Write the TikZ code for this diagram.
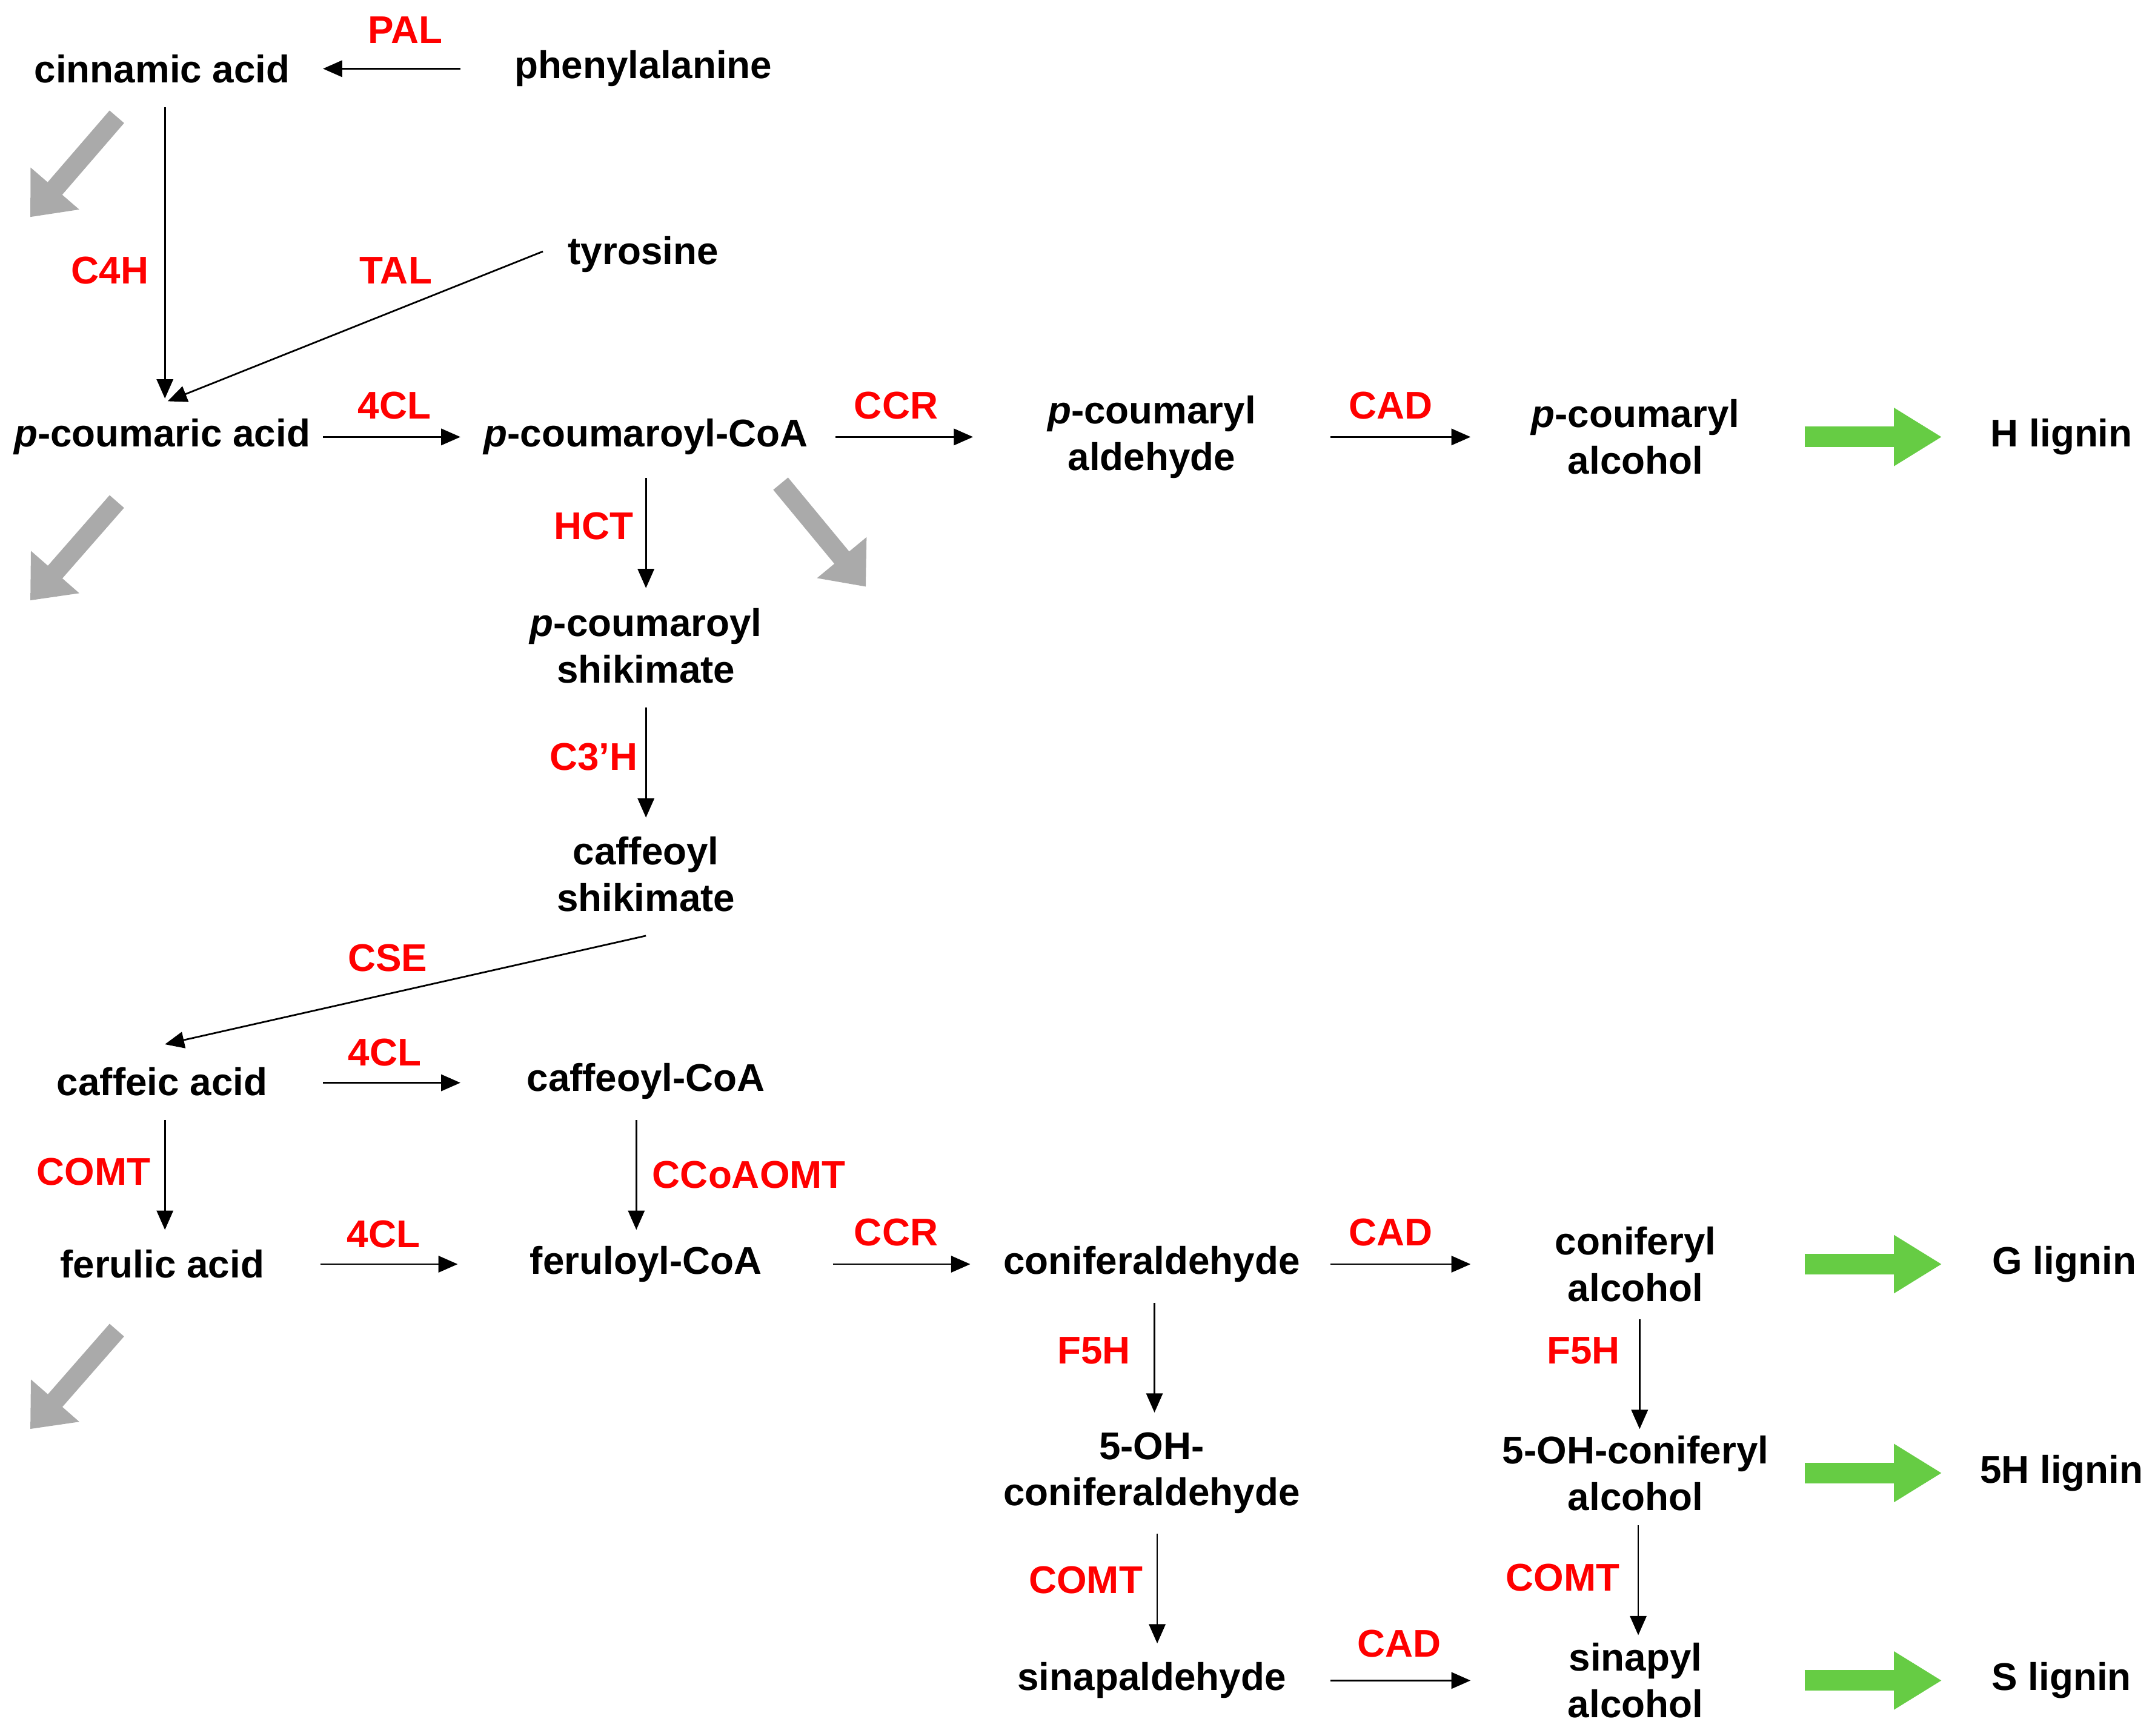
\documentclass[tikz,border=0pt]{standalone}
\usepackage{fontspec}
\setmainfont{Liberation Sans}
\usetikzlibrary{arrows.meta,calc}
\begin{document}
\begin{tikzpicture}[x=0.02cm,y=-0.02cm,
  t/.style={font=\fontsize{16}{19.3}\selectfont\bfseries,align=center,inner sep=0pt},
  e/.style={t,text=red},
  arr/.style={-{Triangle[length=0.28cm,width=0.24cm]},line width=0.7pt},
  gray/.style={-{Triangle[length=0.55cm,width=0.9cm]},line width=0.28cm,draw={rgb,255:red,170;green,170;blue,170}},
  green/.style={-{Triangle[length=0.7cm,width=0.8cm]},line width=0.3cm,draw={rgb,255:red,102;green,204;blue,68}}]
\useasboundingbox (0,0) rectangle (1568,1263);
% nodes
\node[t] (cin) at (118,50) {cinnamic acid};
\node[t] (phe) at (468,50) {phenylalanine};
\node[t] (tyr) at (468,185) {tyrosine};
\node[t] (pca) at (118,318) {\textit{p}-coumaric acid};
\node[t] (pcc) at (470,318) {\textit{p}-coumaroyl-CoA};
\node[t] (pcald) at (838,318) {\textit{p}-coumaryl\\aldehyde};
\node[t] (pcalc) at (1190,318) {\textit{p}-coumaryl\\alcohol};
\node[t] (hl) at (1500,318) {H lignin};
\node[t] (pcs) at (470,470) {\textit{p}-coumaroyl\\shikimate};
\node[t] (cfs) at (470,636) {caffeoyl\\shikimate};
\node[t] (cfa) at (118,787) {caffeic acid};
\node[t] (cfc) at (470,787) {caffeoyl-CoA};
\node[t] (fea) at (118,920) {ferulic acid};
\node[t] (fec) at (470,920) {feruloyl-CoA};
\node[t] (cald) at (838,920) {coniferaldehyde};
\node[t] (calc) at (1190,920) {coniferyl\\alcohol};
\node[t] (gl) at (1502,920) {G lignin};
\node[t] (ohald) at (838,1072) {5-OH-\\coniferaldehyde};
\node[t] (ohalc) at (1190,1072) {5-OH-coniferyl\\alcohol};
\node[t] (fhl) at (1500,1072) {5H lignin};
\node[t] (sald) at (838,1223) {sinapaldehyde};
\node[t] (salc) at (1190,1223) {sinapyl\\alcohol};
\node[t] (sl) at (1500,1223) {S lignin};
% enzymes
\node[e] (e1) at (295,22) {PAL};
\node[e] (e2) at (80,197) {C4H};
\node[e] (e3) at (288,197) {TAL};
\node[e] (e4) at (287,295) {4CL};
\node[e] (e5) at (652,295) {CCR};
\node[e] (e6) at (1012,295) {CAD};
\node[e] (e7) at (432,383) {HCT};
\node[e] (e8) at (432,551) {C3’H};
\node[e] (e9) at (282,697) {CSE};
\node[e] (e10) at (280,766) {4CL};
\node[e] (e11) at (68,853) {COMT};
\node[e] (e12) at (545,855) {CCoAOMT};
\node[e] (e13) at (279,898) {4CL};
\node[e] (e14) at (652,897) {CCR};
\node[e] (e15) at (1012,897) {CAD};
\node[e] (e16) at (796,983) {F5H};
\node[e] (e17) at (1152,983) {F5H};
\node[e] (e18) at (790,1150) {COMT};
\node[e] (e19) at (1137,1148) {COMT};
\node[e] (e20) at (1018,1196) {CAD};
% black arrows
\draw[arr] ($(phe.center)+(-133,0)$) -- ($(phe.center)+(-233,0)$);
\draw[arr] ($(cin.center)+(2,28)$) -- ($(pca.center)+(2,-28)$);
\draw[arr] ($(tyr.center)+(-73,-2)$) -- ($(pca.center)+(4,-26)$);
\draw[arr] ($(pca.center)+(117,0)$) -- ($(pca.center)+(217,0)$);
\draw[arr] ($(pcc.center)+(138,0)$) -- ($(pcc.center)+(238,0)$);
\draw[arr] ($(pcald.center)+(130,0)$) -- ($(pcald.center)+(232,0)$);
\draw[arr] ($(pcc.center)+(0,30)$) -- ($(pcs.center)+(0,-42)$);
\draw[arr] ($(pcs.center)+(0,45)$) -- ($(cfs.center)+(0,-41)$);
\draw[arr] ($(cfs.center)+(0,45)$) -- ($(cfa.center)+(2,-27)$);
\draw[arr] ($(cfa.center)+(117,1)$) -- ($(cfa.center)+(217,1)$);
\draw[arr] ($(cfa.center)+(2,28)$) -- ($(fea.center)+(2,-25)$);
\draw[arr] ($(cfc.center)+(-7,28)$) -- ($(fec.center)+(-7,-25)$);
\draw[arr] ($(fea.center)+(115,0)$) -- ($(fea.center)+(215,0)$);
\draw[arr] ($(fec.center)+(136,0)$) -- ($(fec.center)+(236,0)$);
\draw[arr] ($(cald.center)+(130,0)$) -- ($(cald.center)+(232,0)$);
\draw[arr] ($(cald.center)+(2,28)$) -- ($(ohald.center)+(2,-44)$);
\draw[arr] ($(calc.center)+(3,40)$) -- ($(ohalc.center)+(3,-32)$);
\draw[arr] ($(ohald.center)+(4,44)$) -- ($(sald.center)+(4,-27)$);
\draw[arr] ($(ohalc.center)+(2,38)$) -- ($(salc.center)+(2,-33)$);
\draw[arr] ($(sald.center)+(130,0)$) -- ($(sald.center)+(232,0)$);
% gray arrows
\coordinate (g1a) at (85,85); \coordinate (g1b) at (22,158);
\coordinate (g2a) at (85,365); \coordinate (g2b) at (22,437);
\coordinate (g3a) at (568,352); \coordinate (g3b) at (630,427);
\coordinate (g4a) at (85,968); \coordinate (g4b) at (22,1040);
\draw[gray] (g1a) -- (g1b);
\draw[gray] (g2a) -- (g2b);
\draw[gray] (g3a) -- (g3b);
\draw[gray] (g4a) -- (g4b);
% green arrows
\draw[green] ($(pcalc.center)+(123,0)$) -- ($(pcalc.center)+(223,0)$);
\draw[green] ($(calc.center)+(123,0)$) -- ($(calc.center)+(223,0)$);
\draw[green] ($(ohalc.center)+(123,0)$) -- ($(ohalc.center)+(223,0)$);
\draw[green] ($(salc.center)+(123,0)$) -- ($(salc.center)+(223,0)$);
\end{tikzpicture}
\end{document}
